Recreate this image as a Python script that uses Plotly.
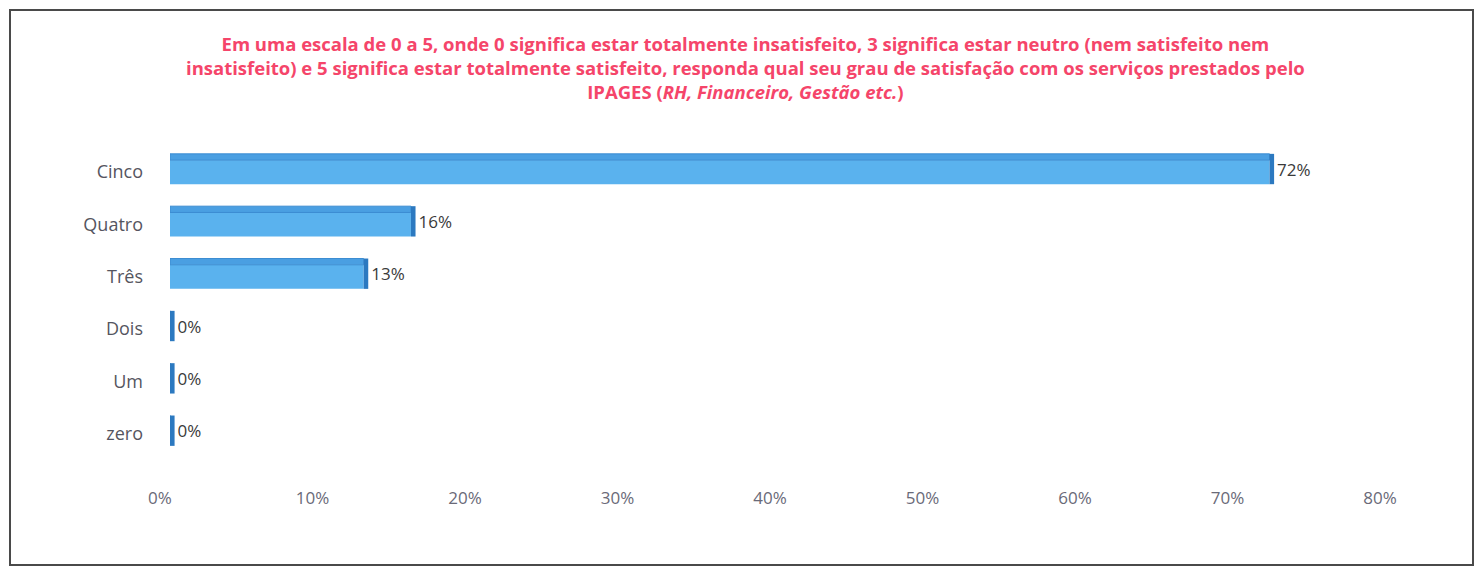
import plotly.graph_objects as go

categories = ["zero", "Um", "Dois", "Três", "Quatro", "Cinco"]
values = [0, 0, 0, 12.7, 15.8, 72.1]
value_labels = ["0%", "0%", "0%", "13%", "16%", "72%"]
x_ticks = [0, 10, 20, 30, 40, 50, 60, 70, 80]
x_tick_labels = ["0%", "10%", "20%", "30%", "40%", "50%", "60%", "70%", "80%"]

title = ("Em uma escala de 0 a 5, onde 0 significa estar totalmente insatisfeito, 3 significa estar neutro (nem satisfeito nem<br>"
         "insatisfeito) e 5 significa estar totalmente satisfeito, responda qual seu grau de satisfação com os serviços prestados pelo<br>"
         "IPAGES (<i>RH, Financeiro, Gestão etc.</i>)")

PAGE_OFF = 8               # page body margin
W, H = 1483 - 2 * PAGE_OFF, 575 - 2 * PAGE_OFF
L, R, T, B = 162, 85, 138, 107
pw, ph = W - L - R, H - T - B
depth = 0.3                # side-face depth (style)
bw = 0.46                  # bar body thickness (style)
tw = 0.12                  # top-face thickness (style)

fig = go.Figure()
# bar body
fig.add_trace(go.Bar(
    y=categories, x=values, orientation="h",
    marker=dict(color="#5ab2ee", line=dict(width=0)),
    width=bw, offset=-bw / 2, hoverinfo="skip", showlegend=False,
))
# top face
fig.add_trace(go.Bar(
    y=categories, x=values, orientation="h",
    marker=dict(color="#4a9fe2", line=dict(color="#3a8cd2", width=1)),
    width=tw, offset=bw / 2, hoverinfo="skip", showlegend=False,
))
# side face + labels
fig.add_trace(go.Bar(
    y=categories, x=[depth] * len(values), base=values, orientation="h",
    marker=dict(color="#2c79c0", line=dict(width=0)),
    width=bw + tw, offset=-bw / 2, text=value_labels, textposition="outside",
    cliponaxis=False,
    textfont=dict(family="Open Sans", size=17, color="#3a3a3a"),
    hoverinfo="skip", showlegend=False,
))


def px_x(p):
    return (p - PAGE_OFF - L) / pw


def px_y(p):
    return (H - B - (p - PAGE_OFF)) / ph


fig.add_shape(type="rect", xref="paper", yref="paper",
              x0=px_x(10), x1=px_x(1473), y0=px_y(565), y1=px_y(10),
              line=dict(color="#4a4a4a", width=2), layer="below")

fig.add_annotation(text=title, xref="paper", yref="paper",
                   x=px_x(745), y=px_y(29), xanchor="center", yanchor="top",
                   showarrow=False, align="center",
                   font=dict(family="Open Sans", size=18.5, color="#f5456a", weight="bold"))

fig.update_layout(
    width=W, height=H,
    margin=dict(l=L, r=R, t=T, b=B, autoexpand=False),
    paper_bgcolor="white", plot_bgcolor="white",
    barmode="overlay",
    xaxis=dict(range=[0, 80], tickvals=x_ticks, ticktext=x_tick_labels,
               showgrid=False, zeroline=False, showline=False, ticks="",
               tickfont=dict(family="Open Sans", size=17, color="#6a6a78"),
               ticklabelstandoff=26, ticklabelshift=-10),
    yaxis=dict(categoryorder="array", categoryarray=categories,
               range=[-0.5, 5.5],
               showgrid=False, zeroline=False, showline=False, ticks="",
               tickfont=dict(family="Open Sans", size=18, color="#555560"),
               ticklabelstandoff=26),
)

fig.write_html("out.html")
